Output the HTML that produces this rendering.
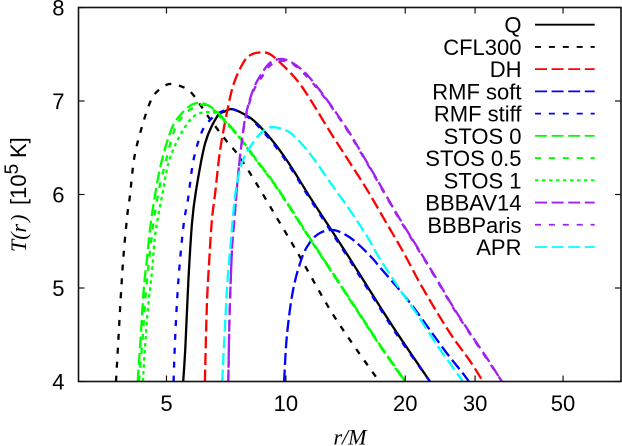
<!DOCTYPE html>
<html lang="en">
<head>
<meta charset="utf-8">
<title>T(r) profiles</title>
<style>
html,body{margin:0;padding:0;background:#fff;width:622px;height:446px;overflow:hidden}
svg{display:block}
text{font-family:"Liberation Sans",sans-serif;fill:#000}
.serif{font-family:"Liberation Serif",serif;font-style:italic}
</style>
</head>
<body>
<svg id="chart" xmlns="http://www.w3.org/2000/svg" width="622" height="446" viewBox="0 0 622 446">
<rect x="0" y="0" width="622" height="446" fill="#fff"/>
<defs><clipPath id="plot-clip"><rect x="78.5" y="7.5" width="542.5" height="374"/></clipPath></defs>
<g id="curves" clip-path="url(#plot-clip)"></g>
<g id="axes"></g>
<g id="legend"></g>
<text transform="translate(26,0) rotate(-90)" font-size="22"><tspan class="serif" x="-252">T(r</tspan><tspan class="serif" dx="2">)</tspan><tspan x="-205">[10</tspan><tspan font-size="19" dy="-8">5</tspan><tspan x="-158" dy="8">K]</tspan></text>
<text class="serif" x="350" y="444.5" text-anchor="middle" font-size="22">r/M</text>
</svg>
<script>
const xTicks = [5, 10, 20, 30, 50];
const yTicks = [4, 5, 6, 7, 8];

const rQ = [5.51, 5.58, 5.68, 5.80, 5.93, 6.26, 6.70, 7.03, 7.37, 8.13, 8.77, 9.51, 10.37, 11.51, 12.93, 14.52, 17.28, 19.41, 23.09];
const tQ = [4.0, 4.37, 5.09, 5.70, 6.03, 6.55, 6.83, 6.89, 6.91, 6.82, 6.69, 6.51, 6.28, 5.97, 5.64, 5.31, 4.80, 4.47, 4.0];

const rCFL = [3.73, 3.79, 3.84, 3.90, 3.99, 4.04, 4.15, 4.34, 4.55, 4.73, 5.06, 5.42, 5.80, 6.38, 7.03, 7.59, 8.45, 9.40, 10.66, 11.58, 13.0, 14.86, 17.2];
const tCFL = [4.0, 4.52, 4.95, 5.37, 5.81, 5.97, 6.40, 6.73, 6.99, 7.10, 7.18, 7.16, 7.08, 6.83, 6.59, 6.42, 6.11, 5.78, 5.39, 5.12, 4.75, 4.38, 4.0];

const rDH = [6.25, 6.32, 6.41, 6.51, 6.64, 6.83, 7.16, 7.41, 7.81, 8.13, 8.62, 9.13, 9.84, 10.68, 11.51, 12.93, 14.35, 16.03, 17.79, 19.74, 21.79, 24.05, 26.39, 29.12, 31.41];
const tDH = [4.0, 4.80, 5.30, 5.73, 6.03, 6.48, 6.95, 7.20, 7.41, 7.49, 7.52, 7.50, 7.38, 7.22, 7.02, 6.67, 6.37, 6.05, 5.72, 5.39, 5.05, 4.74, 4.47, 4.22, 4.0];

const rSoft = [9.90, 10.06, 10.43, 10.97, 11.51, 12.20, 13.16, 14.27, 15.39, 16.59, 17.28, 19.07, 20.93, 23.09, 25.49, 27.80, 28.95];
const tSoft = [4.0, 4.49, 4.98, 5.32, 5.49, 5.59, 5.62, 5.56, 5.45, 5.31, 5.22, 5.01, 4.80, 4.55, 4.30, 4.10, 4.0];

const rStiff = [5.21, 5.26, 5.36, 5.52, 5.67, 5.85, 6.14, 6.45, 6.83, 7.37, 8.13, 8.77, 9.51, 10.37, 11.51, 12.93, 14.52, 17.28, 19.41, 23.09];
const tStiff = [4.0, 4.48, 5.09, 5.67, 5.96, 6.37, 6.67, 6.80, 6.88, 6.91, 6.81, 6.67, 6.49, 6.26, 5.95, 5.62, 5.29, 4.78, 4.45, 4.0];

const rStos0 = [4.23, 4.30, 4.38, 4.47, 4.55, 4.69, 4.87, 5.16, 5.42, 5.74, 6.08, 6.45, 6.83, 7.59, 8.37, 9.13, 9.84, 10.74, 11.72, 12.41, 15.21, 17.28, 19.07, 19.98];
const tStos0 = [4.0, 4.44, 4.98, 5.33, 5.65, 6.02, 6.37, 6.71, 6.85, 6.95, 6.98, 6.94, 6.85, 6.63, 6.39, 6.18, 5.98, 5.73, 5.48, 5.32, 4.75, 4.39, 4.13, 4.0];

const rStos05 = [4.26, 4.35, 4.44, 4.53, 4.62, 4.77, 4.97, 5.26, 5.63, 6.08, 6.45, 6.83, 7.59, 8.37, 9.13, 9.84, 10.74, 11.72, 12.41, 15.21, 17.28, 19.07, 19.98];
const tStos05 = [4.0, 4.44, 4.98, 5.33, 5.65, 6.02, 6.34, 6.71, 6.88, 6.96, 6.93, 6.84, 6.62, 6.38, 6.17, 5.97, 5.72, 5.47, 5.31, 4.74, 4.38, 4.12, 4.0];

const rStos1 = [4.36, 4.47, 4.60, 4.69, 4.89, 5.06, 5.36, 5.74, 6.08, 6.45, 6.75, 7.59, 8.37, 9.13, 9.84, 10.74, 11.72, 12.41, 15.21, 17.28, 19.07, 19.98];
const tStos1 = [4.0, 4.69, 5.19, 5.59, 6.02, 6.34, 6.60, 6.80, 6.87, 6.88, 6.85, 6.62, 6.38, 6.17, 5.97, 5.72, 5.47, 5.31, 4.74, 4.38, 4.12, 4.0];

const rAV14 = [7.16, 7.21, 7.31, 7.41, 7.52, 7.67, 7.90, 8.27, 8.71, 9.13, 9.73, 10.37, 11.31, 12.71, 14.27, 15.39, 16.98, 19.18, 21.79, 24.05, 26.39, 29.12, 32.14, 35.06];
const tAV14 = [4.0, 4.68, 5.39, 5.71, 6.05, 6.42, 6.82, 7.12, 7.30, 7.41, 7.45, 7.41, 7.28, 7.01, 6.70, 6.47, 6.16, 5.77, 5.39, 5.09, 4.80, 4.52, 4.25, 4.0];

const rParis = [7.16, 7.21, 7.31, 7.41, 7.52, 7.67, 7.90, 8.27, 8.71, 9.13, 9.73, 10.37, 11.31, 12.71, 14.27, 15.39, 16.98, 19.18, 21.79, 24.05, 26.39, 29.12, 32.14, 35.06];
const tParis = [4.0, 4.68, 5.39, 5.71, 6.05, 6.42, 6.80, 7.10, 7.26, 7.38, 7.43, 7.40, 7.26, 7.00, 6.69, 6.46, 6.15, 5.76, 5.38, 5.08, 4.79, 4.51, 4.24, 4.0];

const rAPR = [6.91, 7.03, 7.13, 7.27, 7.37, 7.50, 7.75, 8.13, 8.71, 9.24, 10.08, 10.86, 11.72, 12.93, 14.52, 16.03, 17.28, 19.41, 21.42, 24.05, 26.70, 27.97];
const tAPR = [4.0, 4.63, 5.09, 5.51, 5.80, 6.08, 6.34, 6.51, 6.67, 6.72, 6.68, 6.56, 6.39, 6.13, 5.83, 5.55, 5.31, 4.98, 4.72, 4.39, 4.12, 4.0];

const seriesNames = ["Q", "CFL300", "DH", "RMF soft", "RMF stiff", "STOS 0", "STOS 0.5", "STOS 1", "BBBAV14", "BBBParis", "APR"];
const seriesR = [rQ, rCFL, rDH, rSoft, rStiff, rStos0, rStos05, rStos1, rAV14, rParis, rAPR];
const seriesT = [tQ, tCFL, tDH, tSoft, tStiff, tStos0, tStos05, tStos1, tAV14, tParis, tAPR];

const LONG = "12 4.6", SHORT = "6 7.9", DOT = "3.5 3.5";
const seriesColors = ["#000", "#000", "#f00", "#00f", "#00f", "#0f0", "#0f0", "#0f0", "#a020f0", "#a020f0", "#0ff"];
const seriesDashes = ["", SHORT, LONG, LONG, SHORT, LONG, SHORT, DOT, LONG, SHORT, LONG];

const NS = "http://www.w3.org/2000/svg";
const plotL = 78.5, plotR = 621, plotT = 7.5, plotB = 381.5;
const xMin = 3, xMax = 70, yMin = 4, yMax = 8;

function xScale(r) {
  return plotL + (Math.log10(r) - Math.log10(xMin)) / (Math.log10(xMax) - Math.log10(xMin)) * (plotR - plotL);
}
function yScale(t) {
  return plotB - (t - yMin) / (yMax - yMin) * (plotB - plotT);
}
function make(tag, attrs, parent) {
  const el = document.createElementNS(NS, tag);
  for (const k in attrs) el.setAttribute(k, attrs[k]);
  parent.appendChild(el);
  return el;
}
function smoothPath(pts) {
  let d = "M" + pts[0][0].toFixed(2) + " " + pts[0][1].toFixed(2);
  for (let i = 0; i < pts.length - 1; i++) {
    const p0 = pts[Math.max(i - 1, 0)], p1 = pts[i], p2 = pts[i + 1], p3 = pts[Math.min(i + 2, pts.length - 1)];
    const c1x = p1[0] + (p2[0] - p0[0]) / 6, c1y = p1[1] + (p2[1] - p0[1]) / 6;
    const c2x = p2[0] - (p3[0] - p1[0]) / 6, c2y = p2[1] - (p3[1] - p1[1]) / 6;
    d += "C" + c1x.toFixed(2) + " " + c1y.toFixed(2) + " " + c2x.toFixed(2) + " " + c2y.toFixed(2) + " " + p2[0].toFixed(2) + " " + p2[1].toFixed(2);
  }
  return d;
}

const curvesG = document.getElementById("curves");
const axesG = document.getElementById("axes");
const legendG = document.getElementById("legend");

seriesNames.forEach(function (name, i) {
  const pts = seriesR[i].map(function (r, j) { return [xScale(r), yScale(seriesT[i][j])]; });
  const path = make("path", { d: smoothPath(pts), fill: "none", stroke: seriesColors[i], "stroke-width": 2.3, "stroke-dasharray": seriesDashes[i] }, curvesG);
  
  
});

const frame = make("rect", { x: plotL, y: plotT, width: plotR - plotL, height: plotB - plotT, fill: "none", stroke: "#111", "stroke-width": 1.6 }, axesG);



xTicks.forEach(function (v) {
  const x = xScale(v);
  const bottomTick = make("line", { x1: x, x2: x, y1: plotB, y2: plotB - 6, stroke: "#111", "stroke-width": 1.2 }, axesG);
  
  
  const topTick = make("line", { x1: x, x2: x, y1: plotT, y2: plotT + 6, stroke: "#111", "stroke-width": 1.2 }, axesG);
  
  
  const label = make("text", { x: x, y: 411, "text-anchor": "middle", "font-size": 22 }, axesG);
  label.textContent = v;
  
  
});

yTicks.forEach(function (v) {
  const y = yScale(v);
  const leftTick = make("line", { x1: plotL, x2: plotL + 6, y1: y, y2: y, stroke: "#111", "stroke-width": 1.2 }, axesG);
  
  
  const rightTick = make("line", { x1: plotR, x2: plotR - 6, y1: y, y2: y, stroke: "#111", "stroke-width": 1.2 }, axesG);
  
  
  const label = make("text", { x: 64.5, y: y + 8, "text-anchor": "end", "font-size": 22 }, axesG);
  label.textContent = v;
  
  
});

seriesNames.forEach(function (name, i) {
  const rowY = 24.7 + i * 22.23;
  const key = name.toLowerCase().replace(/[ .]+/g, '-');
  const label = make("text", { x: 521.5, y: rowY + 8, "text-anchor": "end", "font-size": 22 }, legendG);
  label.textContent = name;
  
  
  const sample = make("line", { x1: 535, x2: 594.7, y1: rowY, y2: rowY, stroke: seriesColors[i], "stroke-width": 1.8, "stroke-dasharray": seriesDashes[i] }, legendG);
  
  
});
</script>
</body>
</html>
